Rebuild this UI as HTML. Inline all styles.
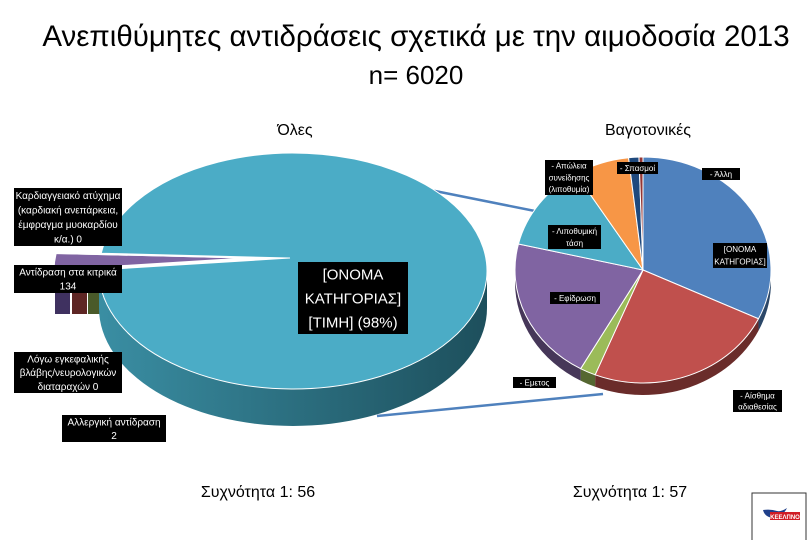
<!DOCTYPE html>
<html><head><meta charset="utf-8">
<style>
html,body{margin:0;padding:0;background:#fff;}
body{width:810px;height:540px;overflow:hidden;font-family:"Liberation Sans","Noto Sans CJK SC",sans-serif;}
svg text{font-family:"Liberation Sans","Noto Sans CJK SC",sans-serif;}
</style></head>
<body>
<svg id="chart" width="810" height="540" viewBox="0 0 810 540" xmlns="http://www.w3.org/2000/svg">
<defs>
<linearGradient id="sideL" x1="0" x2="1" y1="0" y2="0">
<stop offset="0" stop-color="#3a8ea3"/><stop offset="1" stop-color="#1d4f5c"/></linearGradient>
</defs>
<text x="416" y="46" font-size="29.5" text-anchor="middle" fill="#000">Ανεπιθύμητες αντιδράσεις σχετικά με  την αιμοδοσία 2013</text>
<text x="416" y="84" font-size="26" text-anchor="middle" fill="#000">n= 6020</text>
<text x="295" y="135" font-size="16" text-anchor="middle">Όλες</text>
<text x="648" y="135" font-size="16" text-anchor="middle">Βαγοτονικές</text>
<line x1="430" y1="190" x2="545" y2="213" stroke="#4f81bd" stroke-width="2.5"/>
<line x1="377" y1="416" x2="603" y2="394" stroke="#4f81bd" stroke-width="2.5"/>
<g id="left"></g>
<g id="right"></g>
<g id="labels"></g>
<text x="258" y="497" font-size="16" text-anchor="middle">Συχνότητα 1: 56</text>
<text x="630" y="497" font-size="16" text-anchor="middle">Συχνότητα 1: 57</text>
<g>
<rect x="752" y="493" width="54" height="50" fill="#fff" stroke="#333" stroke-width="1"/>
<path d="M763 510 q2 8 12 8 q8 -2 12 -10 q-6 4 -10 3 q-6 -2 -14 -1z" fill="#1f3f8a"/>
<rect x="770" y="512" width="30" height="8" fill="#d01c24"/>
<text x="785" y="519" font-size="6" fill="#fff" text-anchor="middle" font-weight="bold">ΚΕΕΛΠΝΟ</text>
</g>
</svg>
<script>
// Left pie data
const leftCats = ["Καρδιαγγειακό ατύχημα","Αντίδραση στα κιτρικά","Λόγω εγκεφαλικής βλάβης","Αλλεργική αντίδραση","Βαγοτονικές"];
const leftVals = [0, 134, 0, 2, 5884];
const leftColors = ["#4f81bd","#8064a2","#c0504d","#9bbb59","#4bacc6"];
// Right pie data (percent)
const rightCats = ["[ΟΝΟΜΑ ΚΑΤΗΓΟΡΙΑΣ]","Αίσθημα αδιαθεσίας","Εμετος","Εφίδρωση","Λιποθυμική τάση","Απώλεια συνείδησης","Σπασμοί","Άλλη"];
const rightVals = [32.1, 24, 2, 20.6, 12.5, 7, 1.3, 0.5];
const rightColors = ["#4f81bd","#c0504d","#9bbb59","#8064a2","#4bacc6","#f79646","#1f497d","#943634"];

const NS="http://www.w3.org/2000/svg";
function shade(hex,f){const n=parseInt(hex.slice(1),16);const r=(n>>16)&255,g=(n>>8)&255,b=n&255;
 return "rgb("+Math.round(r*f)+","+Math.round(g*f)+","+Math.round(b*f)+")";}
function pt(cx,cy,rx,ry,a){return [cx+rx*Math.cos(a),cy+ry*Math.sin(a)];}
function sideArc(cx,cy,rx,ry,d,a0,a1){
 const segs=[];
 for(let k=-1;k<=1;k++){const s=Math.max(a0,k*2*Math.PI),e=Math.min(a1,k*2*Math.PI+Math.PI);if(e>s)segs.push([s,e]);}
 return segs.map(([s,e])=>{const p0=pt(cx,cy,rx,ry,s),p1=pt(cx,cy,rx,ry,e);const lg=(e-s)>Math.PI?1:0;
  return `M${p0[0]},${p0[1]} A${rx},${ry} 0 ${lg} 1 ${p1[0]},${p1[1]} L${p1[0]},${p1[1]+d} A${rx},${ry} 0 ${lg} 0 ${p0[0]},${p0[1]+d}Z`;}).join(" ");
}
function topPath(cx,cy,rx,ry,ax,ay,a0,a1){const p0=pt(cx,cy,rx,ry,a0),p1=pt(cx,cy,rx,ry,a1);const lg=(a1-a0)>Math.PI?1:0;
 return `M${ax},${ay} L${p0[0]},${p0[1]} A${rx},${ry} 0 ${lg} 1 ${p1[0]},${p1[1]}Z`;}
function mk(tag,attrs,parent){const e=document.createElementNS(NS,tag);for(const k in attrs)e.setAttribute(k,attrs[k]);parent.appendChild(e);return e;}

function drawPie(g,vals,cats,colors,cx,cy,rx,ry,d,apex,start,offsets,sideFill,prefix){
 const tot=vals.reduce((a,b)=>a+b,0);let a=start;const sl=[];
 vals.forEach((v,i)=>{const a1=a+v/tot*2*Math.PI;sl.push([a,a1]);a=a1;});
 sl.forEach(([a0,a1],i)=>{if(a1-a0<=0)return;const o=offsets[i]||[0,0];
  const p=mk("path",{d:sideArc(cx+o[0],cy+o[1],rx,ry,d,a0,a1),fill:sideFill&&i===vals.length-1?sideFill:shade(colors[i],0.55)},g);
  
  });
 sl.forEach(([a0,a1],i)=>{if(a1-a0<=0)return;const o=offsets[i]||[0,0];
  const p=mk("path",{d:topPath(cx+o[0],cy+o[1],rx,ry,apex[0]+o[0],apex[1]+o[1],a0,a1),fill:colors[i],stroke:"#fff","stroke-width":1},g);
  
  
  const t=mk("title",{},p);t.textContent=cats[i]+": "+vals[i];});
}
const lt=leftVals.reduce((a,b)=>a+b,0);
const smallSpan=(lt-leftVals[4])/lt*2*Math.PI;
const lg=document.getElementById("left");
[["#3f3160",55],["#5e2624",72],["#4a5a2a",88]].forEach((c,i)=>{const r=mk("rect",{x:c[1],y:292,width:15,height:22,fill:c[0]},lg);
 
 });
drawPie(lg,leftVals,leftCats,leftColors,293,271,194,118,37,[290,258],Math.PI-smallSpan/2+0.08,[[-45,0],[-45,0],[-45,0],[-45,0],[0,0]],"url(#sideL)","left-pie");
drawPie(document.getElementById("right"),rightVals,rightCats,rightColors,643,270,128,113,12,[643,270],-Math.PI/2,[],null,"right-pie");

const labels=[
 [14,188,108,58,10,["Καρδιαγγειακό ατύχημα","(καρδιακή  ανεπάρκεια,","έμφραγμα μυοκαρδίου","κ/α.)  0"],"label-cardiac"],
 [14,265,108,28,10,["Αντίδραση στα κιτρικά","134"],"label-citrate"],
 [14,352,108,41,10,["Λόγω εγκεφαλικής","βλάβης/νευρολογικών","διαταραχών  0"],"label-neuro"],
 [62,415,104,27,10,["Αλλεργική αντίδραση","2"],"label-allergic"],
 [298,262,110,72,15,["[ΟΝΟΜΑ","ΚΑΤΗΓΟΡΙΑΣ]","[ΤΙΜΗ]  (98%)"],"label-main"],
 [545,160,48,35,8,["- Απώλεια","συνείδησης","(λιποθυμία)"],"label-loss"],
 [617,162,41,12,8,["- Σπασμοί"],"label-spasms"],
 [702,168,38,12,8,["- Άλλη"],"label-other"],
 [713,243,54,25,8,["[ΟΝΟΜΑ","ΚΑΤΗΓΟΡΙΑΣ]"],"label-category"],
 [548,225,53,24,8,["- Λιποθυμική","τάση"],"label-faint"],
 [550,292,50,12,8,["- Εφίδρωση"],"label-sweat"],
 [513,377,43,11,8,["- Εμετος"],"label-vomit"],
 [733,390,49,22,8,["- Αίσθημα","αδιαθεσίας"],"label-malaise"]
];
const lb=document.getElementById("labels");
labels.forEach(([x,y,w,h,fs,lines,name])=>{
 const g=mk("g",{},lb);
 
 
 mk("rect",{x:x,y:y,width:w,height:h,fill:"#000"},g);
 const lh=h/lines.length;
 lines.forEach((s,i)=>{const t=mk("text",{x:x+w/2,y:y+lh*i+lh/2+fs*0.36,"font-size":fs,fill:"#fff","text-anchor":"middle"},g);t.textContent=s;});
});
</script>
</body></html>
